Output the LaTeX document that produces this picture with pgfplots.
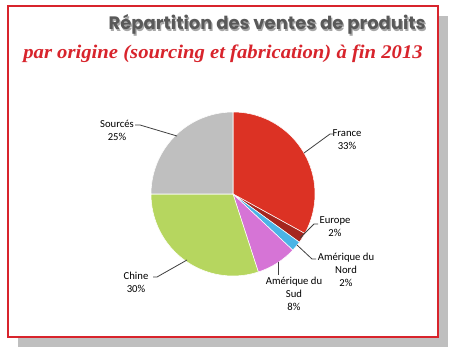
\documentclass[border=0pt]{standalone}
\usepackage{pgfplots}
\pgfplotsset{compat=1.18}
\usepackage{pgfplotstable}
\usepackage{fontspec}
\setmainfont{Carlito}
\newfontfamily\titlefont{Poppins}
\newfontfamily\subfont{Liberation Serif}
\definecolor{cFrance}{RGB}{220,50,36}
\definecolor{cEurope}{RGB}{165,38,30}
\definecolor{cNord}{RGB}{75,180,230}
\definecolor{cSud}{RGB}{214,116,214}
\definecolor{cChine}{RGB}{182,214,95}
\definecolor{cSources}{RGB}{191,191,191}
\definecolor{frameRed}{RGB}{216,36,44}
\definecolor{titleGray}{RGB}{89,89,89}
\definecolor{leader}{RGB}{64,64,64}

\pgfplotstableread{
label value color
France 33 cFrance
Europe 2 cEurope
AmNord 2 cNord
AmSud 8 cSud
Chine 30 cChine
Sources 25 cSources
}\piedata

\begin{document}
\begin{tikzpicture}
\begin{axis}[x=0.75pt, y=0.75pt, xmin=0, xmax=454, ymin=-354, ymax=0,
  hide axis, clip=false, scale only axis]
% frame and shadow
\fill[cSources] (axis cs:18,-16) rectangle (axis cs:448,-347);
\fill[white] (axis cs:8,-6) rectangle (axis cs:438,-337);
\draw[frameRed, line width=1pt] (axis cs:8,-6) rectangle (axis cs:438,-337);
\path (axis cs:0,0) rectangle (axis cs:454,-354);
% pie
\pgfplotsextra{
  \gdef\cum{0}
  \pgfplotstablegetrowsof{\piedata}
  \pgfmathtruncatemacro\nrows{\pgfplotsretval-1}
  \foreach \i in {0,...,\nrows} {
    \pgfplotstablegetelem{\i}{value}\of{\piedata}
    \pgfmathsetmacro\v{\pgfplotsretval}
    \pgfplotstablegetelem{\i}{color}\of{\piedata}
    \edef\c{\pgfplotsretval}
    \pgfmathsetmacro\a{90-3.6*\cum}
    \pgfmathsetmacro\b{90-3.6*(\cum+\v)}
    \fill[\c, draw=white, line width=0.4pt] (axis cs:233,-194) -- ++(\a:61.5pt) arc[start angle=\a, end angle=\b, radius=61.5pt] -- cycle;
    \pgfmathsetmacro\newcum{\cum+\v}
    \xdef\cum{\newcum}
  }
}
% leaders
\draw[leader, line width=0.6pt] (axis cs:135,-125) -- (axis cs:140,-125) -- (axis cs:177,-136);
\draw[leader, line width=0.6pt] (axis cs:304,-153) -- (axis cs:330,-134) -- (axis cs:333,-134);
\draw[leader, line width=0.6pt] (axis cs:300,-238) -- (axis cs:314,-224) -- (axis cs:318,-224);
\draw[leader, line width=0.6pt] (axis cs:297,-245) -- (axis cs:312,-259) -- (axis cs:316,-259);
\draw[leader, line width=0.6pt] (axis cs:278,-262) -- (axis cs:278,-275);
\draw[leader, line width=0.6pt] (axis cs:187,-260) -- (axis cs:157,-277) -- (axis cs:153,-277);
% labels
\tikzset{lab/.style={align=center, font=\fontsize{8pt}{9.75pt}\selectfont, inner sep=0pt}}
\node[lab] at (axis cs:117,-130) {Sourcés\\25\%};
\node[lab] at (axis cs:347,-140) {France\\33\%};
\node[lab] at (axis cs:335,-227) {Europe\\2\%};
\node[lab] at (axis cs:346,-270) {Amérique du\\Nord\\2\%};
\node[lab] at (axis cs:294,-294) {Amérique du\\Sud\\8\%};
\node[lab] at (axis cs:136,-282) {Chine\\30\%};
% titles
\node[anchor=base east, inner sep=0pt, text=black!35, font=\titlefont\bfseries\fontsize{13.5pt}{15pt}\selectfont] at (axis cs:427.2,-31.2) {Répartition des ventes de produits};
\node[anchor=base east, inner sep=0pt, text=titleGray, font=\titlefont\bfseries\fontsize{13.5pt}{15pt}\selectfont] at (axis cs:426,-30) {Répartition des ventes de produits};
\node[anchor=base east, inner sep=0pt, text=frameRed, font=\subfont\bfseries\itshape\fontsize{14.5pt}{16pt}\selectfont] at (axis cs:423,-59) {\scalebox{1.07}[1]{par origine (sourcing et fabrication) à fin 2013}};
\end{axis}
\end{tikzpicture}
\end{document}
